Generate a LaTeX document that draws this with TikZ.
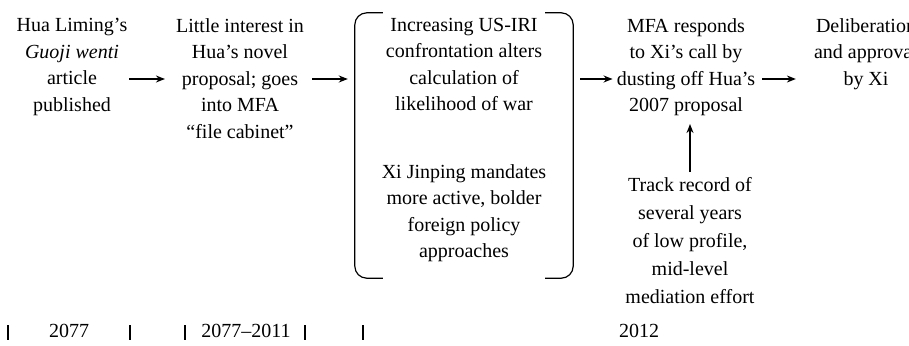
\documentclass[tikz,border=0pt]{standalone}
\usepackage{fontspec}
\setmainfont{Liberation Serif}
\usetikzlibrary{arrows.meta}
\begin{document}
\begin{tikzpicture}[x=1pt,y=-1pt,
  txt/.style={align=center, inner sep=0pt, font=\fontsize{20}{26.5}\selectfont, anchor=north},
  conn/.style={line width=1.4pt, -{Stealth[length=9pt,width=7pt]}},
  brack/.style={line width=1.2pt, rounded corners=12pt},
  tickmark/.style={line width=1.1pt},
  yr/.style={inner sep=0pt, font=\fontsize{20}{24}\selectfont, anchor=base}]
\useasboundingbox (0,0) rectangle (909,345);
\fill[white] (0,0) rectangle (909,345);

\node[txt] (c1) at (72,18) {Hua Liming’s\\\textit{Guoji wenti}\\article\\published};
\node[txt] (c2) at (240,18) {Little interest in\\Hua’s novel\\proposal; goes\\into MFA\\“file cabinet”};
\node[minimum width=218pt, minimum height=265pt, inner sep=0pt] (brk) at (464,145.5) {};
\node[txt] (b1) at (464,18) {Increasing US-IRI\\confrontation alters\\calculation of\\likelihood of war};
\node[txt] (b2) at (464,164) {Xi Jinping mandates\\more active, bolder\\foreign policy\\approaches};
\node[txt] (c4) at (686,18) {MFA responds\\to Xi’s call by\\dusting off Hua’s\\2007 proposal};
\node[txt] (c5) at (866,18) {Deliberation\\and approval\\by Xi};
\node[txt, font=\fontsize{20}{28}\selectfont] (tr) at (690,177) {Track record of\\several years\\of low profile,\\mid-level\\mediation effort};

\coordinate (mid) at (0,79);
\draw[conn, shorten <=2pt, shorten >=11pt] (c1.east |- mid) -- (c2.west |- mid);
\draw[conn, shorten <=8pt, shorten >=7pt] (c2.east |- mid) -- (brk.west |- mid);
\draw[conn, shorten <=7pt, shorten >=4pt] (brk.east |- mid) -- (c4.west |- mid);
\draw[conn, shorten <=7pt, shorten >=18pt] (c4.east |- mid) -- (c5.west |- mid);
\draw[conn, shorten <=5pt, shorten >=8pt] (tr.north) -- (tr.north |- c4.south);

\draw[brack] ([xshift=28pt]brk.north west) -- (brk.north west) -- (brk.south west) -- ([xshift=28pt]brk.south west);
\draw[brack] ([xshift=-28pt]brk.north east) -- (brk.north east) -- (brk.south east) -- ([xshift=-28pt]brk.south east);

\foreach \x in {8,130,185,305,363} \draw[tickmark] (\x,325) -- (\x,340);
\node[yr] (y1) at (69,337) {2077};
\node[yr] (y2) at (246,337) {2077–2011};
\node[yr] (y3) at (639,337) {2012};
\end{tikzpicture}
\end{document}
